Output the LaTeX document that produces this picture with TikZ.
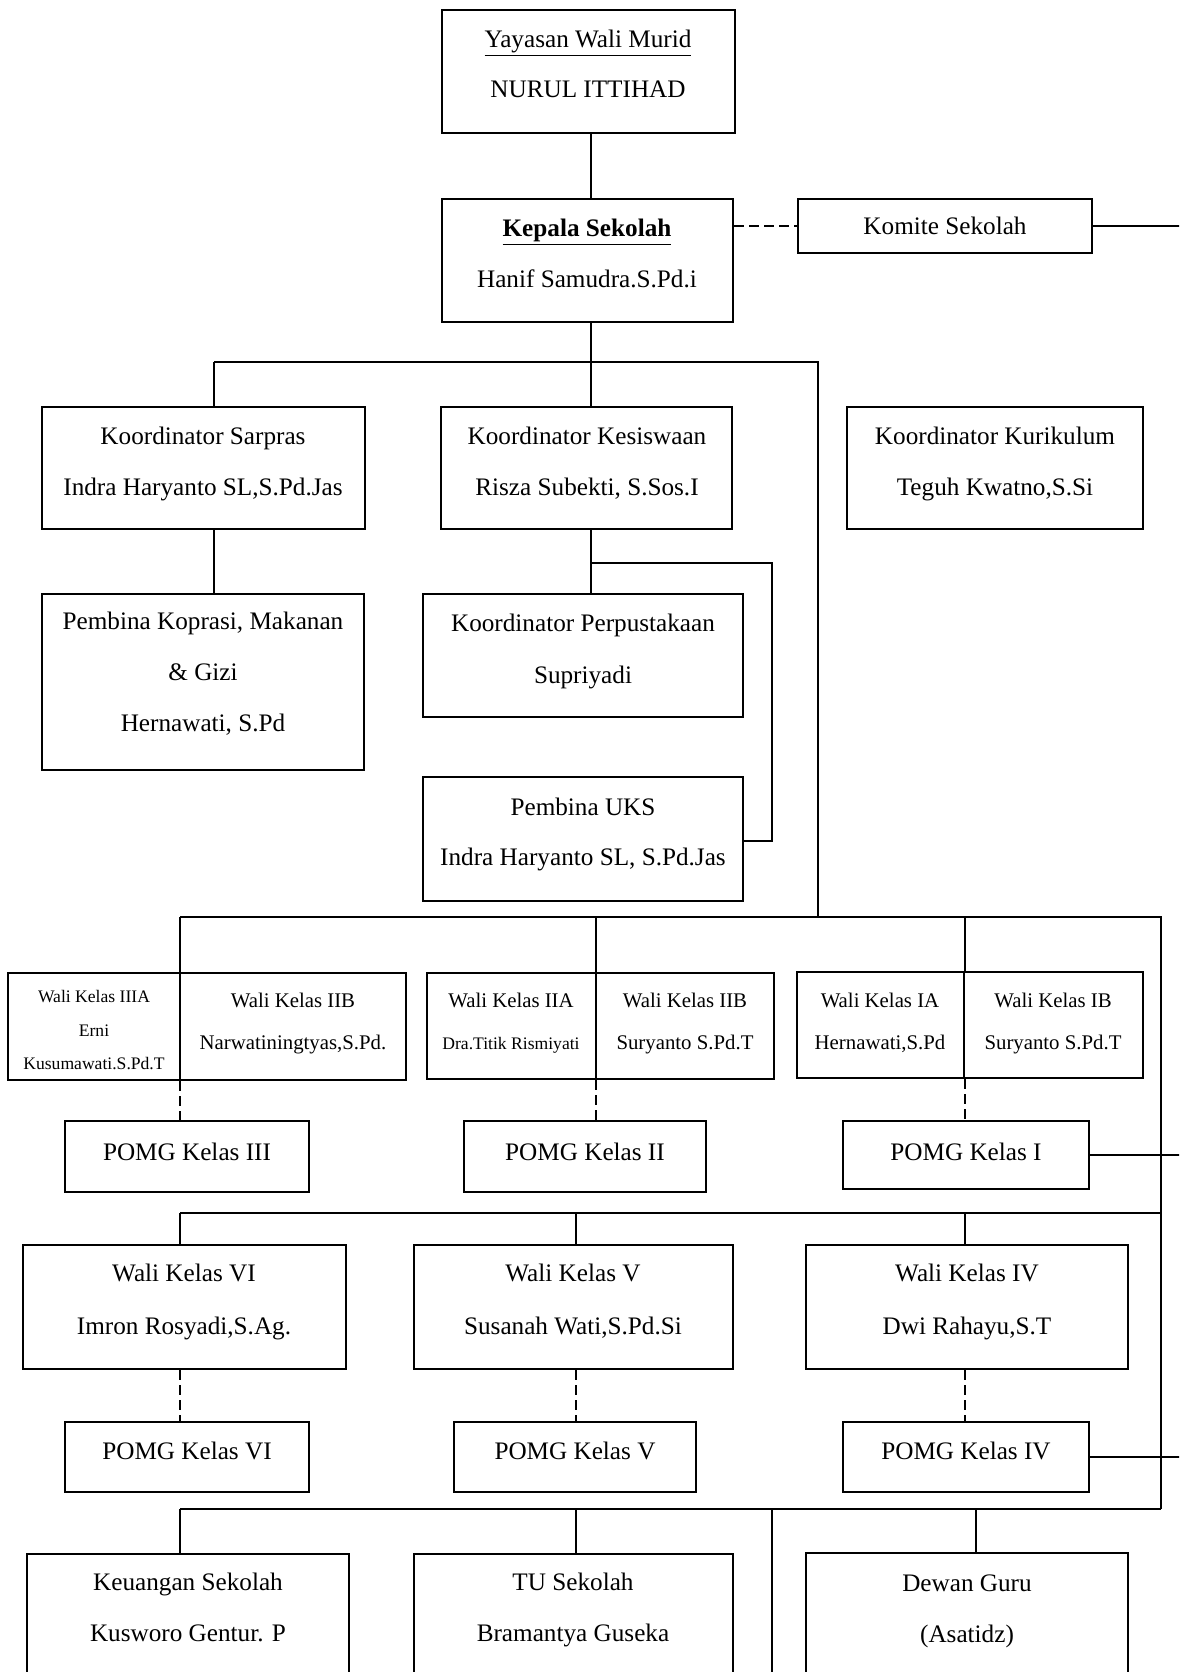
\documentclass[tikz,border=0pt]{standalone}
\usepackage{fontspec}
\setmainfont{Liberation Serif}
\usetikzlibrary{fit}
\tikzset{
 box/.style={draw, line width=1.1pt, inner sep=0pt},
 ln/.style={line width=1.1pt},
 dsh/.style={line width=1.1pt, dash pattern=on 5pt off 2.5pt},
 txt/.style={inner sep=0pt, anchor=base, font=\fontsize{12.6}{15}\selectfont},
 txts/.style={inner sep=0pt, anchor=base, font=\fontsize{10.4}{12}\selectfont},
 txtxs/.style={inner sep=0pt, anchor=base, font=\fontsize{8.8}{10}\selectfont},
}
\newcommand{\mkbox}[5]{\coordinate (#1-a) at (#2,#3); \coordinate (#1-b) at (#4,#5); \node[box, fit=(#1-a)(#1-b)] (#1) {};}
\begin{document}
\begin{tikzpicture}[x=0.5pt,y=-0.5pt]
\useasboundingbox (0,0) rectangle (1179,1672);
\clip (0,0) rectangle (1179,1672);
% boxes
\mkbox{yay}{442}{10}{735}{133}
\mkbox{kep}{442}{199}{733}{322}
\mkbox{kom}{798}{199}{1092}{253}
\mkbox{sar}{42}{407}{365}{529}
\mkbox{kes}{441}{407}{732}{529}
\mkbox{kur}{847}{407}{1143}{529}
\mkbox{kop}{42}{594}{364}{770}
\mkbox{per}{423}{594}{743}{717}
\mkbox{uks}{423}{777}{743}{901}
\mkbox{wta}{8}{973}{180}{1080}
\mkbox{wtb}{180}{973}{406}{1080}
\mkbox{wda}{427}{973}{596}{1079}
\mkbox{wdb}{596}{973}{774}{1079}
\mkbox{wsa}{797}{972}{964}{1078}
\mkbox{wsb}{964}{972}{1143}{1078}
\mkbox{pt}{65}{1121}{309}{1192}
\mkbox{pd}{464}{1121}{706}{1192}
\mkbox{ps}{843}{1121}{1089}{1189}
\mkbox{w6}{23}{1245}{346}{1369}
\mkbox{w5}{414}{1245}{733}{1369}
\mkbox{w4}{806}{1245}{1128}{1369}
\mkbox{p6}{65}{1422}{309}{1492}
\mkbox{p5}{454}{1422}{696}{1492}
\mkbox{p4}{843}{1422}{1089}{1492}
\mkbox{keu}{27}{1554}{349}{1710}
\mkbox{tu}{414}{1554}{733}{1710}
\mkbox{dew}{806}{1553}{1128}{1710}
% texts
\node[txt] (t-yay1) at (588,47) {\underline{Yayasan Wali Murid}};
\node[txt] (t-yay2) at (588,97) {NURUL ITTIHAD};
\node[txt] (t-kep1) at (587,236) {\textbf{\underline{Kepala Sekolah}}};
\node[txt] (t-kep2) at (587,287) {Hanif Samudra.S.Pd.i};
\node[txt] (t-kom) at (945,234) {Komite Sekolah};
\node[txt] (t-sar1) at (203,444) {Koordinator Sarpras};
\node[txt] (t-sar2) at (203,495) {Indra Haryanto SL,S.Pd.Jas};
\node[txt] (t-kes1) at (587,444) {Koordinator Kesiswaan};
\node[txt] (t-kes2) at (587,495) {Risza Subekti, S.Sos.I};
\node[txt] (t-kur1) at (995,444) {Koordinator Kurikulum};
\node[txt] (t-kur2) at (995,495) {Teguh Kwatno,S.Si};
\node[txt] (t-kop1) at (203,629) {Pembina Koprasi, Makanan};
\node[txt] (t-kop2) at (203,680) {\& Gizi};
\node[txt] (t-kop3) at (203,731) {Hernawati, S.Pd};
\node[txt] (t-per1) at (583,631) {Koordinator Perpustakaan};
\node[txt] (t-per2) at (583,683) {Supriyadi};
\node[txt] (t-uks1) at (583,815) {Pembina UKS};
\node[txt] (t-uks2) at (583,865) {Indra Haryanto SL, S.Pd.Jas};
\node[txtxs] (t-wta1) at (94,1002) {Wali Kelas IIIA};
\node[txtxs] (t-wta2) at (94,1036) {Erni};
\node[txtxs] (t-wta3) at (94,1069) {Kusumawati.S.Pd.T};
\node[txts] (t-wtb1) at (293,1007) {Wali Kelas IIB};
\node[txts] (t-wtb2) at (293,1049) {Narwatiningtyas,S.Pd.};
\node[txts] (t-wda1) at (511,1007) {Wali Kelas IIA};
\node[txtxs] (t-wda2) at (511,1049) {Dra.Titik Rismiyati};
\node[txts] (t-wdb1) at (685,1007) {Wali Kelas IIB};
\node[txts] (t-wdb2) at (685,1049) {Suryanto S.Pd.T};
\node[txts] (t-wsa1) at (880,1007) {Wali Kelas IA};
\node[txts] (t-wsa2) at (880,1049) {Hernawati,S.Pd};
\node[txts] (t-wsb1) at (1053,1007) {Wali Kelas IB};
\node[txts] (t-wsb2) at (1053,1049) {Suryanto S.Pd.T};
\node[txt] (t-pt) at (187,1160) {POMG Kelas III};
\node[txt] (t-pd) at (585,1160) {POMG Kelas II};
\node[txt] (t-ps) at (966,1160) {POMG Kelas I};
\node[txt] (t-w61) at (184,1281) {Wali Kelas VI};
\node[txt] (t-w62) at (184,1334) {Imron Rosyadi,S.Ag.};
\node[txt] (t-w51) at (573,1281) {Wali Kelas V};
\node[txt] (t-w52) at (573,1334) {Susanah Wati,S.Pd.Si};
\node[txt] (t-w41) at (967,1281) {Wali Kelas IV};
\node[txt] (t-w42) at (967,1334) {Dwi Rahayu,S.T};
\node[txt] (t-p6) at (187,1459) {POMG Kelas VI};
\node[txt] (t-p5) at (575,1459) {POMG Kelas V};
\node[txt] (t-p4) at (966,1459) {POMG Kelas IV};
\node[txt] (t-keu1) at (188,1590) {Keuangan Sekolah};
\node[txt] (t-keu2) at (188,1641) {Kusworo Gentur. P};
\node[txt] (t-tu1) at (573,1590) {TU Sekolah};
\node[txt] (t-tu2) at (573,1641) {Bramantya Guseka};
\node[txt] (t-dew1) at (967,1591) {Dewan Guru};
\node[txt] (t-dew2) at (967,1642) {(Asatidz)};
% helper coordinates
\coordinate (b1L) at (214,362);
\coordinate (b1M) at (591,362);
\coordinate (b1R) at (818,362);
\coordinate (b2L) at (180,917);
\coordinate (b2M) at (818,917);
\coordinate (b2R) at (1161,917);
\coordinate (b3L) at (180,1213);
\coordinate (b3R) at (1161,1213);
\coordinate (b4L) at (180,1509);
\coordinate (b4R) at (1161,1509);
\coordinate (edgeK) at (1190,226);
\coordinate (uksT) at (772,563);
\coordinate (uksB) at (772,841);
\coordinate (x2) at (596,0);
\coordinate (x1) at (965,0);
\coordinate (x5) at (576,0);
\coordinate (xd) at (976,0);
\coordinate (xv) at (772,0);
\coordinate (bottom) at (772,1700);
% connectors
\draw[ln] (b1M |- yay.south) -- (b1M |- kep.north);
\draw[dsh] (kep.east |- kom.west) -- (kom.west);
\draw[ln] (kom.east) -- (edgeK);
\draw[ln] (b1M |- kep.south) -- (b1M);
\draw[ln] (b1L) -- (b1R) -- (b2M);
\draw[ln] (b1L) -- (b1L |- sar.north);
\draw[ln] (b1M) -- (b1M |- kes.north);
\draw[ln] (b1L |- sar.south) -- (b1L |- kop.north);
\draw[ln] (b1M |- kes.south) -- (b1M |- per.north);
\draw[ln] (b1M |- uksT) -- (uksT) -- (uksB) -- (uks.east |- uksB);
\draw[ln] (b2L) -- (b2R) -- (b4R);
\draw[ln] (b2L) -- (b2L |- wtb.north);
\draw[ln] (x2 |- b2L) -- (x2 |- wdb.north);
\draw[ln] (x1 |- b2L) -- (x1 |- wsb.north);
\draw[dsh] (b2L |- wtb.south) -- (b2L |- pt.north);
\draw[dsh] (x2 |- wdb.south) -- (x2 |- pd.north);
\draw[dsh] (x1 |- wsb.south) -- (x1 |- ps.north);
\draw[ln] (ps.east) -- (edgeK |- ps.east);
\draw[ln] (b3L) -- (b3R);
\draw[ln] (b3L) -- (b3L |- w6.north);
\draw[ln] (x5 |- b3L) -- (x5 |- w5.north);
\draw[ln] (x1 |- b3L) -- (x1 |- w4.north);
\draw[dsh] (b3L |- w6.south) -- (b3L |- p6.north);
\draw[dsh] (x5 |- w5.south) -- (x5 |- p5.north);
\draw[dsh] (x1 |- w4.south) -- (x1 |- p4.north);
\draw[ln] (p4.east) -- (edgeK |- p4.east);
\draw[ln] (b4L) -- (b4R);
\draw[ln] (b4L) -- (b4L |- keu.north);
\draw[ln] (x5 |- b4L) -- (x5 |- tu.north);
\draw[ln] (xv |- b4L) -- (bottom);
\draw[ln] (xd |- b4L) -- (xd |- dew.north);
\end{tikzpicture}
\end{document}
